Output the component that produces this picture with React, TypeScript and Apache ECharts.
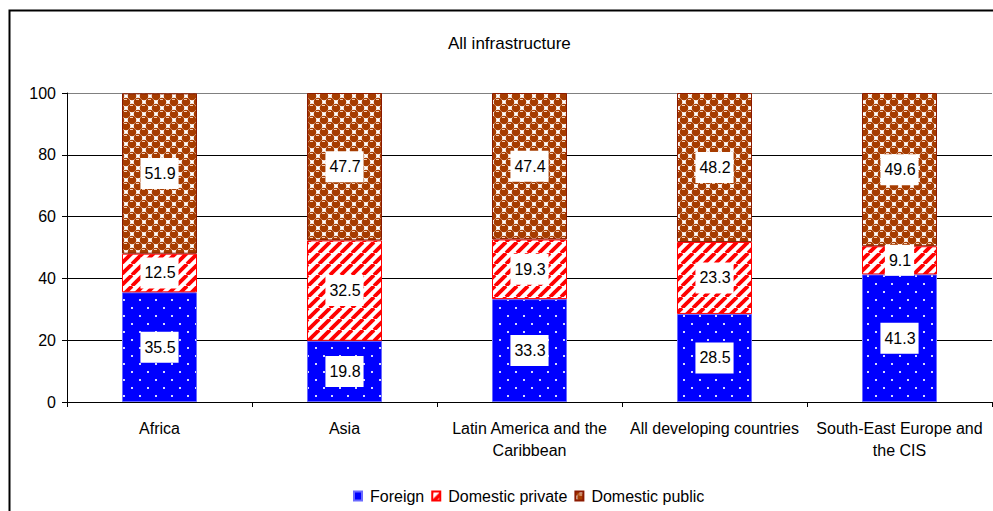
import React, { useEffect, useRef } from "react";
import * as echarts from "echarts";

const categories = [
  "Africa",
  "Asia",
  "Latin America and the\nCaribbean",
  "All developing countries",
  "South-East Europe and\nthe CIS",
];
const foreign = [35.5, 19.8, 33.3, 28.5, 41.3];
const domesticPrivate = [12.5, 32.5, 19.3, 23.3, 9.1];
const domesticPublic = [51.9, 47.7, 47.4, 48.2, 49.6];
const yTicks = [0, 20, 40, 60, 80, 100];

const FONT = "'Liberation Sans', Arial, sans-serif";

function makeDots() {
  const c = document.createElement("canvas");
  c.width = 16;
  c.height = 16;
  const g = c.getContext("2d")!;
  g.fillStyle = "#0000ff";
  g.fillRect(0, 0, 16, 16);
  g.fillStyle = "#d8d8ff";
  g.fillRect(3, 3, 2, 2);
  g.fillRect(11, 11, 2, 2);
  return c;
}

function makeStripes() {
  const n = 11;
  const c = document.createElement("canvas");
  c.width = n;
  c.height = n;
  const g = c.getContext("2d")!;
  g.fillStyle = "#ffffff";
  g.fillRect(0, 0, n, n);
  g.strokeStyle = "#ff0000";
  g.lineWidth = 3.8;
  for (const off of [-n, 0, n]) {
    g.beginPath();
    g.moveTo(off, n);
    g.lineTo(off + n, 0);
    g.stroke();
  }
  return c;
}

function makeSpheres() {
  const n = 12;
  const c = document.createElement("canvas");
  c.width = n;
  c.height = n;
  const g = c.getContext("2d")!;
  g.fillStyle = "#ffffff";
  g.fillRect(0, 0, n, n);
  const centers = [
    [0, 0],
    [n, 0],
    [0, n],
    [n, n],
    [n / 2, n / 2],
  ];
  for (const [x, y] of centers) {
    g.fillStyle = "#a63c00";
    g.beginPath();
    g.arc(x, y, 4.3, 0, Math.PI * 2);
    g.fill();
    g.fillStyle = "rgba(255,225,205,0.9)";
    g.fillRect(x - 2, y - 3, 3, 1);
  }
  return c;
}

export default function App() {
  const ref = useRef<HTMLDivElement>(null);
  useEffect(() => {
    if (!ref.current) return;
    const chart = echarts.init(ref.current, null, { renderer: "svg" });
    const pat = (canvas: HTMLCanvasElement) => ({
      image: canvas,
      repeat: "repeat",
      imageWidth: canvas.width,
      imageHeight: canvas.height,
    });
    const dots = pat(makeDots());
    const stripes = pat(makeStripes());
    const spheres = pat(makeSpheres());

    const label = {
      show: true,
      position: "inside",
      backgroundColor: "#ffffff",
      padding: [8, 3, 7, 4],
      color: "#000",
      fontSize: 16,
      fontFamily: FONT,
      formatter: (p: any) => String(p.value),
    };

    const mk = (name: string, data: number[], fill: any, border: string, legendFill: string) => ({
      name,
      type: "bar",
      stack: "total",
      data,
      barWidth: 75,
      itemStyle: { color: fill, borderColor: border, borderWidth: 1 },
      label,
      emphasis: { disabled: true },
    });

    chart.setOption({
      animation: false,
      backgroundColor: "#fff",
      textStyle: { fontFamily: FONT },
      title: {
        text: "All infrastructure",
        left: 443,
        top: 30,
        textStyle: { fontSize: 17, fontWeight: "normal", color: "#000", fontFamily: FONT },
      },
      legend: {
        bottom: 2,
        left: 348,
        itemWidth: 8,
        itemHeight: 9,
        itemGap: 7,
        icon: "rect",
        textStyle: { fontSize: 16, color: "#000", fontFamily: FONT, padding: [0, 0, 0, 3] },
        data: [
          { name: "Foreign", itemStyle: { color: "#0000ff", borderColor: "#6a6aff" } },
          { name: "Domestic private" },
          { name: "Domestic public" },
        ],
      },
      grid: { left: 67, right: 1, top: 93, bottom: 109 },
      xAxis: {
        type: "category",
        data: categories,
        axisLine: { lineStyle: { color: "#000", width: 1 } },
        axisTick: { show: true, length: 5, inside: false, lineStyle: { color: "#000" } },
        axisLabel: {
          color: "#000",
          fontSize: 16,
          fontFamily: FONT,
          margin: 15,
          lineHeight: 22,
          interval: 0,
        },
      },
      yAxis: {
        type: "value",
        min: yTicks[0],
        max: yTicks[yTicks.length - 1],
        interval: 20,
        axisLine: { show: true, lineStyle: { color: "#000", width: 1 } },
        axisTick: { show: true, length: 5, lineStyle: { color: "#000" } },
        axisLabel: { color: "#000", fontSize: 16, fontFamily: FONT, margin: 11 },
        splitLine: {
          show: true,
          lineStyle: {
            color: ["#000", "#000", "#000", "#000", "#000", "#808080"],
            width: 1,
          },
        },
      },
      graphic: [
        {
          type: "rect",
          shape: { x: 9.5, y: 10.5, width: 1100, height: 600 },
          style: { fill: "none", stroke: "#000", lineWidth: 2 },
          silent: true,
          z: -1,
        },
      ],
      series: [
        mk("Foreign", foreign, dots, "#6a6aff", "#0000ff"),
        mk("Domestic private", domesticPrivate, stripes, "#ff0000", ""),
        mk("Domestic public", domesticPublic, spheres, "#8b1a00", ""),
      ],
    });
    return () => chart.dispose();
  }, []);
  return (
    <div
      ref={ref}
      style={{ position: "fixed", left: 0, top: 0, width: 993, height: 511 }}
    />
  );
}
